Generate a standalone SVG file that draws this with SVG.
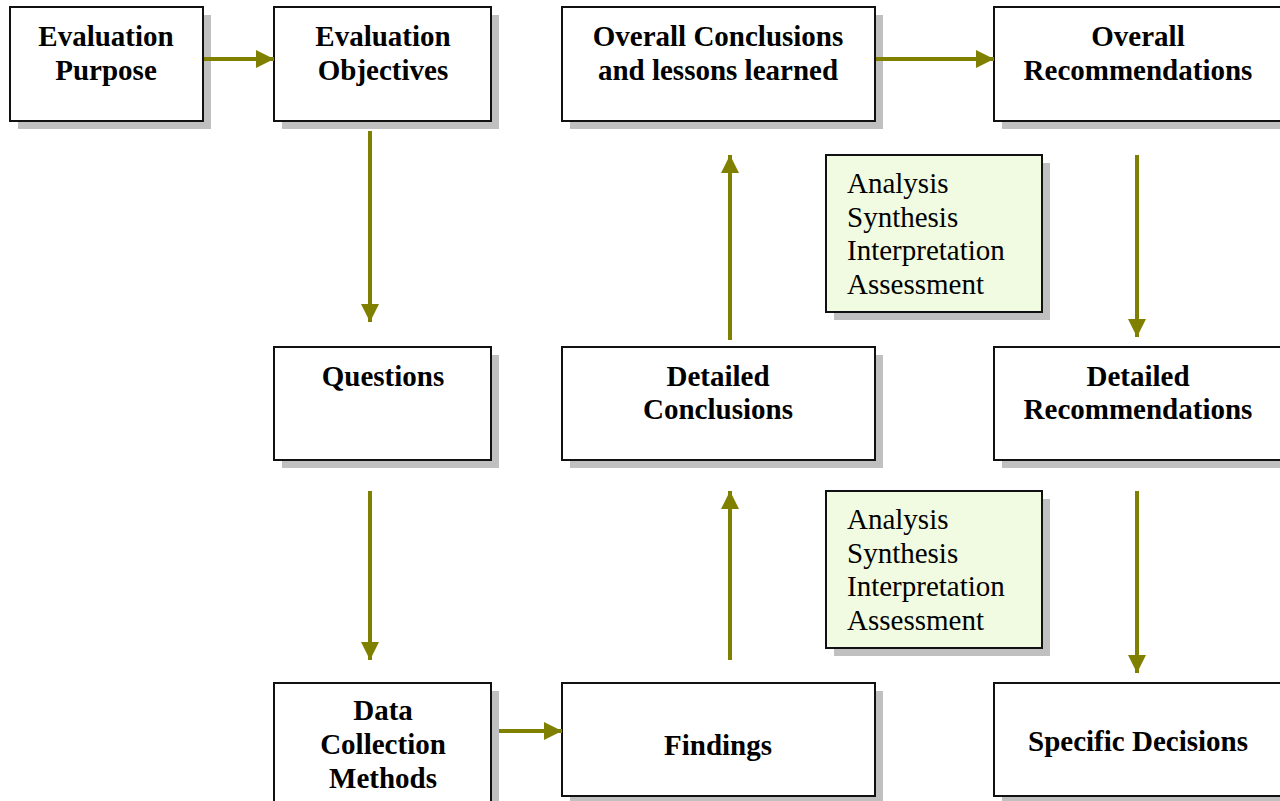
<svg xmlns="http://www.w3.org/2000/svg" width="1280" height="801" viewBox="0 0 1280 801">
<defs>
<marker id="ah" markerUnits="userSpaceOnUse" markerWidth="20" markerHeight="18" refX="18" refY="9" orient="auto">
<path d="M0,0 L18,9 L0,18 Z" fill="#808000"/>
</marker>
</defs>
<style>
.sh{fill:#c0c0c0}
.bx{fill:#fff;stroke:#111;stroke-width:2}
.gb{fill:#f1fbe1;stroke:#111;stroke-width:2}
.b{font-family:"Liberation Serif","Times New Roman",serif;font-weight:bold;font-size:29px;text-anchor:middle;fill:#000}
.r{font-family:"Liberation Serif","Times New Roman",serif;font-size:29px;fill:#000}
.c{stroke:#808000;stroke-width:4;fill:none;marker-end:url(#ah)}
</style>
<rect width="1280" height="801" fill="#fff"/>
<g id="n-purpose">
<rect class="sh" x="18" y="15" width="193" height="114"/>
<rect class="bx" x="10" y="7" width="193" height="114"/>
<text class="b" x="106" y="46">Evaluation</text>
<text class="b" x="106" y="80">Purpose</text>
</g>
<g id="n-objectives">
<rect class="sh" x="282" y="15" width="217" height="114"/>
<rect class="bx" x="274" y="7" width="217" height="114"/>
<text class="b" x="383" y="46">Evaluation</text>
<text class="b" x="383" y="80">Objectives</text>
</g>
<g id="n-overall-conclusions">
<rect class="sh" x="570" y="15" width="313" height="114"/>
<rect class="bx" x="562" y="7" width="313" height="114"/>
<text class="b" x="718" y="46">Overall Conclusions</text>
<text class="b" x="718" y="80">and lessons learned</text>
</g>
<g id="n-overall-recs">
<rect class="sh" x="1002" y="15" width="288" height="114"/>
<rect class="bx" x="994" y="7" width="288" height="114"/>
<text class="b" x="1138" y="46">Overall</text>
<text class="b" x="1138" y="80">Recommendations</text>
</g>
<g id="n-analysis-1">
<rect class="sh" x="834" y="163" width="216" height="157"/>
<rect class="gb" x="826" y="155" width="216" height="157"/>
<text class="r" x="847" y="193">Analysis</text>
<text class="r" x="847" y="227">Synthesis</text>
<text class="r" x="847" y="260">Interpretation</text>
<text class="r" x="847" y="294">Assessment</text>
</g>
<g id="n-questions">
<rect class="sh" x="282" y="355" width="217" height="113"/>
<rect class="bx" x="274" y="347" width="217" height="113"/>
<text class="b" x="383" y="386">Questions</text>
</g>
<g id="n-detailed-conclusions">
<rect class="sh" x="570" y="355" width="313" height="113"/>
<rect class="bx" x="562" y="347" width="313" height="113"/>
<text class="b" x="718" y="386">Detailed</text>
<text class="b" x="718" y="419">Conclusions</text>
</g>
<g id="n-detailed-recs">
<rect class="sh" x="1002" y="355" width="288" height="113"/>
<rect class="bx" x="994" y="347" width="288" height="113"/>
<text class="b" x="1138" y="386">Detailed</text>
<text class="b" x="1138" y="419">Recommendations</text>
</g>
<g id="n-analysis-2">
<rect class="sh" x="834" y="499" width="216" height="157"/>
<rect class="gb" x="826" y="491" width="216" height="157"/>
<text class="r" x="847" y="529">Analysis</text>
<text class="r" x="847" y="563">Synthesis</text>
<text class="r" x="847" y="596">Interpretation</text>
<text class="r" x="847" y="630">Assessment</text>
</g>
<g id="n-data">
<rect class="sh" x="282" y="691" width="217" height="120"/>
<rect class="bx" x="274" y="683" width="217" height="128"/>
<text class="b" x="383" y="720">Data</text>
<text class="b" x="383" y="754">Collection</text>
<text class="b" x="383" y="788">Methods</text>
</g>
<g id="n-findings">
<rect class="sh" x="570" y="691" width="313" height="113"/>
<rect class="bx" x="562" y="683" width="313" height="113"/>
<text class="b" x="718" y="755">Findings</text>
</g>
<g id="n-decisions">
<rect class="sh" x="1002" y="691" width="288" height="113"/>
<rect class="bx" x="994" y="683" width="288" height="113"/>
<text class="b" x="1138" y="751">Specific Decisions</text>
</g>
<g id="connectors">
<line class="c" x1="204" y1="59" x2="274" y2="59"/>
<line class="c" x1="876" y1="59" x2="994" y2="59"/>
<line class="c" x1="370" y1="131" x2="370" y2="322"/>
<line class="c" x1="370" y1="491" x2="370" y2="660"/>
<line class="c" x1="499" y1="731" x2="562" y2="731"/>
<line class="c" x1="730" y1="660" x2="730" y2="491"/>
<line class="c" x1="730" y1="340" x2="730" y2="155"/>
<line class="c" x1="1137" y1="155" x2="1137" y2="337"/>
<line class="c" x1="1137" y1="491" x2="1137" y2="673"/>
</g>
</svg>
